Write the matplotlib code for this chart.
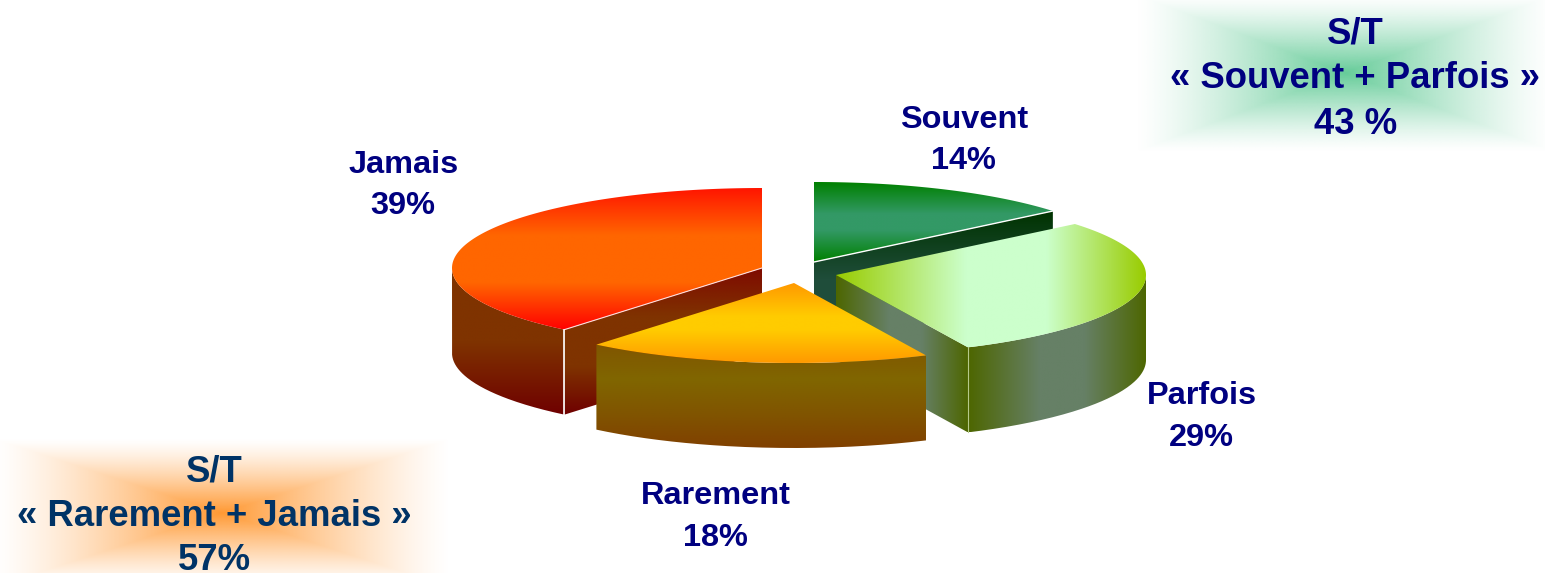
import numpy as np
import matplotlib
matplotlib.use('Agg')
import matplotlib.pyplot as plt
from matplotlib.colors import LinearSegmentedColormap, to_rgb
from matplotlib.patches import PathPatch
from matplotlib.path import Path

plt.rcParams['font.family'] = ['Liberation Sans', 'DejaVu Sans']

# data
labels = ['Souvent', 'Parfois', 'Rarement', 'Jamais']
values = [14, 29, 18, 39]
group_titles = ['« Souvent + Parfois »', '« Rarement + Jamais »']
group_values = ['43 %', '57%']

# layout of the pie, in pixels
CX, CY = 788, 268
RX, RY = 310, 80
DEPTH = 85
explode = [(26, -6), (48, 7), (6, 15), (-26, 0)]
label_pos = [(964, 120, 161), (1202, 396, 438), (716, 496, 538), (404, 165, 206)]

NAVY = '#000080'

fig = plt.figure(figsize=(15.45, 5.73), dpi=100)
ax = fig.add_axes([0, 0, 1, 1])


def ellipse_pts(cx, cy, a0, a1):
    t = np.radians(np.linspace(a0, a1, 120))
    return np.column_stack([cx + RX * np.sin(t), cy - RY * np.cos(t)])


def fill_gradient(pts, stops, horizontal=False, z=1):
    pts = np.asarray(pts)
    cmap = LinearSegmentedColormap.from_list('g', stops)
    x0, x1 = pts[:, 0].min(), pts[:, 0].max()
    y0, y1 = pts[:, 1].min(), pts[:, 1].max()
    g = np.linspace(0, 1, 256)
    arr = g[None, :] if horizontal else g[:, None]
    im = ax.imshow(arr, cmap=cmap, vmin=0, vmax=1, extent=(x0, x1, y1, y0),
                   origin='upper', aspect='auto', zorder=z, interpolation='bilinear')
    patch = PathPatch(Path(np.vstack([pts, pts[:1]])), fc='none', ec='none', transform=ax.transData)
    ax.add_patch(patch)
    im.set_clip_path(patch)


def glow(cx, cy, w, h, color):
    xs = np.linspace(-1, 1, 400)
    ys = np.linspace(-1, 1, 200)
    dx, dy = np.meshgrid(xs, ys)
    m = np.maximum(np.abs(dx), np.abs(dy))
    rgba = np.ones((200, 400, 4))
    rgba[..., :3] = to_rgb(color)
    rgba[..., 3] = np.clip(1 - m, 0, 1) ** 1.3
    ax.imshow(rgba, extent=(cx - w / 2, cx + w / 2, cy + h / 2, cy - h / 2),
              aspect='auto', zorder=0, interpolation='bilinear')


glow(1345, 73, 420, 158, '#66cc99')
glow(222, 513, 460, 150, '#ff9933')

# slice angles, clockwise from 12 o'clock
total = sum(values)
edges = np.cumsum([0] + values) / total * 360
apex = [(CX + ex, CY + ey) for ex, ey in explode]

# Souvent
a0, a1 = edges[0], edges[1]
ax_, ay_ = apex[0]
end = ellipse_pts(ax_, ay_, a0, a1)
fill_gradient([(ax_, ay_), tuple(end[-1]), (end[-1][0], end[-1][1] + DEPTH), (ax_, ay_ + DEPTH)],
              ['#003300', '#1f4d3a', '#215040'], z=1)
fill_gradient(np.vstack([[(ax_, ay_)], end]),
              [(0, '#008000'), (0.4, '#339966'), (0.6, '#339966'), (1, '#008000')], z=2)
ax.plot([ax_, end[-1][0]], [ay_, end[-1][1]], color='white', lw=1, zorder=3)

# Jamais
a0, a1 = edges[3], edges[4]
ax_, ay_ = apex[3]
arc = ellipse_pts(ax_, ay_, a0, a1)
side = ['#7f0a00', '#7f3300', '#7f3300', '#6f0000']
fill_gradient([(ax_, ay_), tuple(arc[0]), (arc[0][0], arc[0][1] + DEPTH), (ax_, ay_ + DEPTH)], side, z=4)
front = ellipse_pts(ax_, ay_, a0, 270)
fill_gradient(np.vstack([front, (front + [0, DEPTH])[::-1]]), ['#7f3300', '#7f3300', '#6f0000'], z=4)
fill_gradient(np.vstack([[(ax_, ay_)], arc]),
              ['#ff1500', '#ff6600', '#ff6600', '#ff0000'], z=5)
ax.plot([ax_, arc[0][0]], [ay_, arc[0][1]], color='#ffdddd', lw=0.8, zorder=6)
ax.plot([arc[0][0]] * 2, [arc[0][1], arc[0][1] + DEPTH], color='white', lw=1.2, zorder=6)

# Parfois
a0, a1 = edges[1], edges[2]
ax_, ay_ = apex[1]
arc = ellipse_pts(ax_, ay_, a0, a1)
side = [(0, '#4d6600'), (0.4, '#668066'), (0.65, '#668066'), (1, '#4d6600')]
fill_gradient([(ax_, ay_), tuple(arc[-1]), (arc[-1][0], arc[-1][1] + DEPTH), (ax_, ay_ + DEPTH)],
              side, horizontal=True, z=7)
front = ellipse_pts(ax_, ay_, 90, a1)
fill_gradient(np.vstack([front, (front + [0, DEPTH])[::-1]]), side, horizontal=True, z=7)
fill_gradient(np.vstack([[(ax_, ay_)], arc]),
              [(0, '#99cc00'), (0.42, '#ccffcc'), (0.68, '#ccffcc'), (1, '#99cc00')], horizontal=True, z=8)
ax.plot([arc[-1][0]] * 2, [arc[-1][1], arc[-1][1] + DEPTH], color='#b5c98a', lw=0.8, zorder=8)

# Rarement
a0, a1 = edges[2], edges[3]
ax_, ay_ = apex[2]
arc = ellipse_pts(ax_, ay_, a0, a1)
fill_gradient(np.vstack([arc, (arc + [0, DEPTH])[::-1]]),
              ['#805500', '#806600', '#805500', '#804000'], z=9)
fill_gradient(np.vstack([[(ax_, ay_)], arc]),
              [(0, '#ff9900'), (0.42, '#ffcc00'), (0.58, '#ffcc00'), (1, '#ff9900')], z=10)

# labels
for name, v, (x, y1, y2) in zip(labels, values, label_pos):
    ax.text(x, y1, name, color=NAVY, fontsize=23.4, fontweight='bold', ha='center', va='center', zorder=20)
    ax.text(x - 1, y2, f'{v}%', color=NAVY, fontsize=23.4, fontweight='bold', ha='center', va='center', zorder=20)

ax.text(1355, 34, 'S/T', color=NAVY, fontsize=26.3, fontweight='bold', ha='center', va='center', zorder=20)
ax.text(1355, 79, group_titles[0], color=NAVY, fontsize=26.3, fontweight='bold', ha='center', va='center', zorder=20)
ax.text(1356, 124, group_values[0], color=NAVY, fontsize=26.3, fontweight='bold', ha='center', va='center', zorder=20)
ax.text(214, 472, 'S/T', color='#003366', fontsize=26.3, fontweight='bold', ha='center', va='center', zorder=20)
ax.text(214, 517, group_titles[1], color='#003366', fontsize=26.3, fontweight='bold', ha='center', va='center', zorder=20)
ax.text(214, 560, group_values[1], color='#003366', fontsize=26.3, fontweight='bold', ha='center', va='center', zorder=20)

ax.set_xlim(0, 1545)
ax.set_ylim(573, 0)
ax.axis('off')
fig.savefig('out.png', dpi=100)
